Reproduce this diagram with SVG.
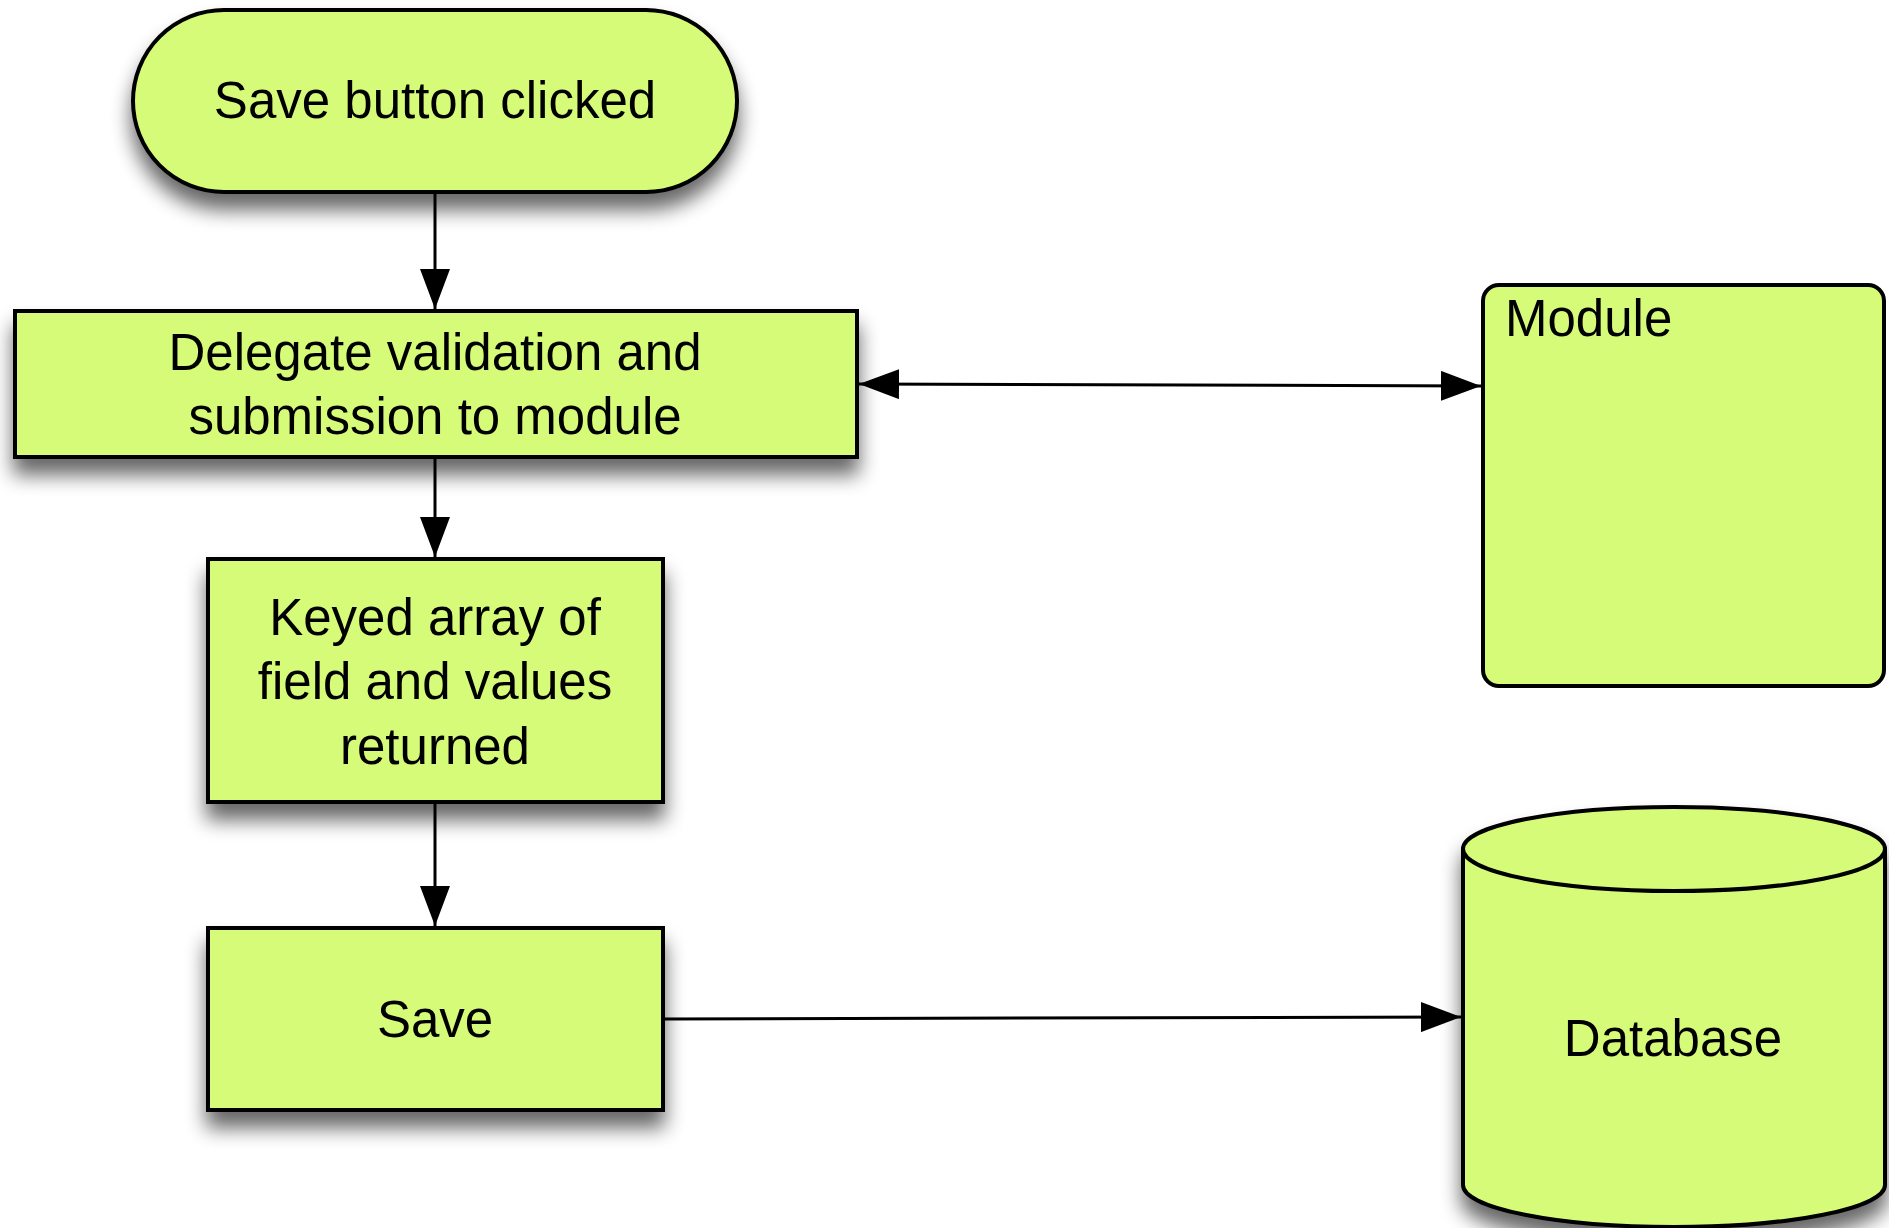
<svg xmlns="http://www.w3.org/2000/svg" width="1889" height="1228" viewBox="0 0 1889 1228">
  <defs>
    <filter id="shadow" x="-15%" y="-15%" width="130%" height="150%">
      <feGaussianBlur in="SourceAlpha" stdDeviation="10"/>
      <feOffset dx="0" dy="16" result="b"/>
      <feComponentTransfer><feFuncA type="linear" slope="0.6"/></feComponentTransfer>
      <feMerge><feMergeNode/><feMergeNode in="SourceGraphic"/></feMerge>
    </filter>
    <marker id="arrow" markerUnits="userSpaceOnUse" markerWidth="40" markerHeight="30" refX="40" refY="15" orient="auto-start-reverse" viewBox="0 0 40 30">
      <path d="M0,0 L40,15 L0,30 z" fill="#000"/>
    </marker>
  </defs>
  <style>
    .shape { fill: #d6fb78; stroke: #000; stroke-width: 4; }
    .label { font-family: "Liberation Sans", Arial, sans-serif; font-size: 51px; fill: #000; }
    .mid { text-anchor: middle; }
    .conn { stroke: #000; stroke-width: 3; fill: none; }
  </style>
  <rect width="1889" height="1228" fill="#fff"/>

  <g id="connectors">
    <line class="conn" x1="435" y1="193" x2="435" y2="309" marker-end="url(#arrow)"/>
    <line class="conn" x1="435" y1="458" x2="435" y2="557" marker-end="url(#arrow)"/>
    <line class="conn" x1="435" y1="803" x2="435" y2="926" marker-end="url(#arrow)"/>
    <line class="conn" x1="859" y1="384" x2="1481" y2="386" marker-start="url(#arrow)" marker-end="url(#arrow)"/>
    <line class="conn" x1="664" y1="1019" x2="1461" y2="1017" marker-end="url(#arrow)"/>
  </g>

  <g id="node-start" filter="url(#shadow)">
    <rect class="shape" x="133" y="10" width="604" height="182" rx="91" ry="91"/>
    <text class="label mid" x="435" y="118">Save button clicked</text>
  </g>

  <g id="node-delegate" filter="url(#shadow)">
    <rect class="shape" x="15" y="311" width="842" height="146"/>
    <text class="label mid" x="435" y="370">Delegate validation and</text>
    <text class="label mid" x="435" y="434">submission to module</text>
  </g>

  <g id="node-keyed" filter="url(#shadow)">
    <rect class="shape" x="208" y="559" width="455" height="243"/>
    <text class="label mid" x="435" y="635">Keyed array of</text>
    <text class="label mid" x="435" y="699">field and values</text>
    <text class="label mid" x="435" y="764">returned</text>
  </g>

  <g id="node-save" filter="url(#shadow)">
    <rect class="shape" x="208" y="928" width="455" height="182"/>
    <text class="label mid" x="435" y="1037">Save</text>
  </g>

  <g id="node-module">
    <rect class="shape" x="1483" y="285" width="401" height="401" rx="16" ry="16"/>
    <text class="label" x="1505" y="336">Module</text>
  </g>

  <g id="node-database" filter="url(#shadow)">
    <path class="shape" d="M1463,849 A211,42 0 0 1 1885,849 L1885,1185 A211,42 0 0 1 1463,1185 Z"/>
    <path class="shape" d="M1463,849 A211,42 0 0 0 1885,849" fill="none"/>
    <text class="label mid" x="1673" y="1056">Database</text>
  </g>
</svg>
